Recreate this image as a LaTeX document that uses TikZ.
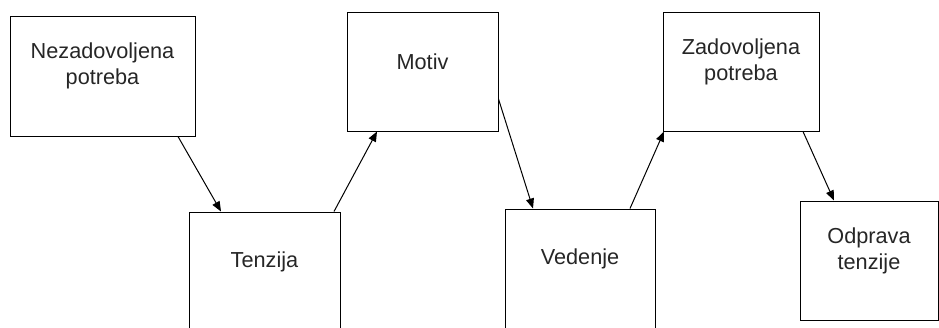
\documentclass[tikz,border=0pt]{standalone}
\usepackage{fontspec}
\setmainfont{Liberation Sans}
\usetikzlibrary{arrows.meta}
\begin{document}
\begin{tikzpicture}[x=1pt,y=-1pt,
  box/.style={draw=black,line width=1pt,rectangle,inner sep=0pt},
  txt/.style={align=center,font=\fontsize{21.7pt}{26pt}\selectfont,text=black!85,inner sep=0pt},
  arr/.style={line width=1pt,-{Triangle[length=10pt,width=8pt]}}]
\useasboundingbox (0,0) rectangle (939,327);
\clip (0,0) rectangle (939,327);
\node[box,minimum width=185pt,minimum height=120pt] (b1) at (102.5,76) {};
\node[box,minimum width=151pt,minimum height=140pt] (b2) at (264.5,282) {};
\node[box,minimum width=151pt,minimum height=119pt] (b3) at (422.5,71.5) {};
\node[box,minimum width=150pt,minimum height=140pt] (b4) at (580,279) {};
\node[box,minimum width=156pt,minimum height=119pt] (b5) at (741,71.5) {};
\node[box,minimum width=138pt,minimum height=119pt] (b6) at (869,260.5) {};
\node[txt] (t1) at ([yshift=-50pt]b1.north) {Nezadovoljena\\potreba};
\node[txt] (t2) at ([yshift=-50pt]b2.north) {Tenzija};
\node[txt] (t3) at ([yshift=-50pt]b3.north) {Motiv};
\node[txt] (t4) at ([yshift=-50pt]b4.north) {Vedenje};
\node[txt] (t5) at ([yshift=-50pt]b5.north) {Zadovoljena\\potreba};
\node[txt] (t6) at ([yshift=-50pt]b6.north) {Odprava\\tenzije};
\draw[arr] ([xshift=75.5pt]b1.south) -- ([xshift=-43.5pt]b2.north);
\draw[arr] ([xshift=69.5pt]b2.north) -- ([xshift=-45.5pt]b3.south);
\draw[arr] ([yshift=-27.5pt]b3.east) -- ([xshift=-47pt]b4.north);
\draw[arr] ([xshift=50pt]b4.north) -- ([xshift=-77pt]b5.south);
\draw[arr] ([xshift=62pt]b5.south) -- ([xshift=-35pt]b6.north);
\end{tikzpicture}
\end{document}
